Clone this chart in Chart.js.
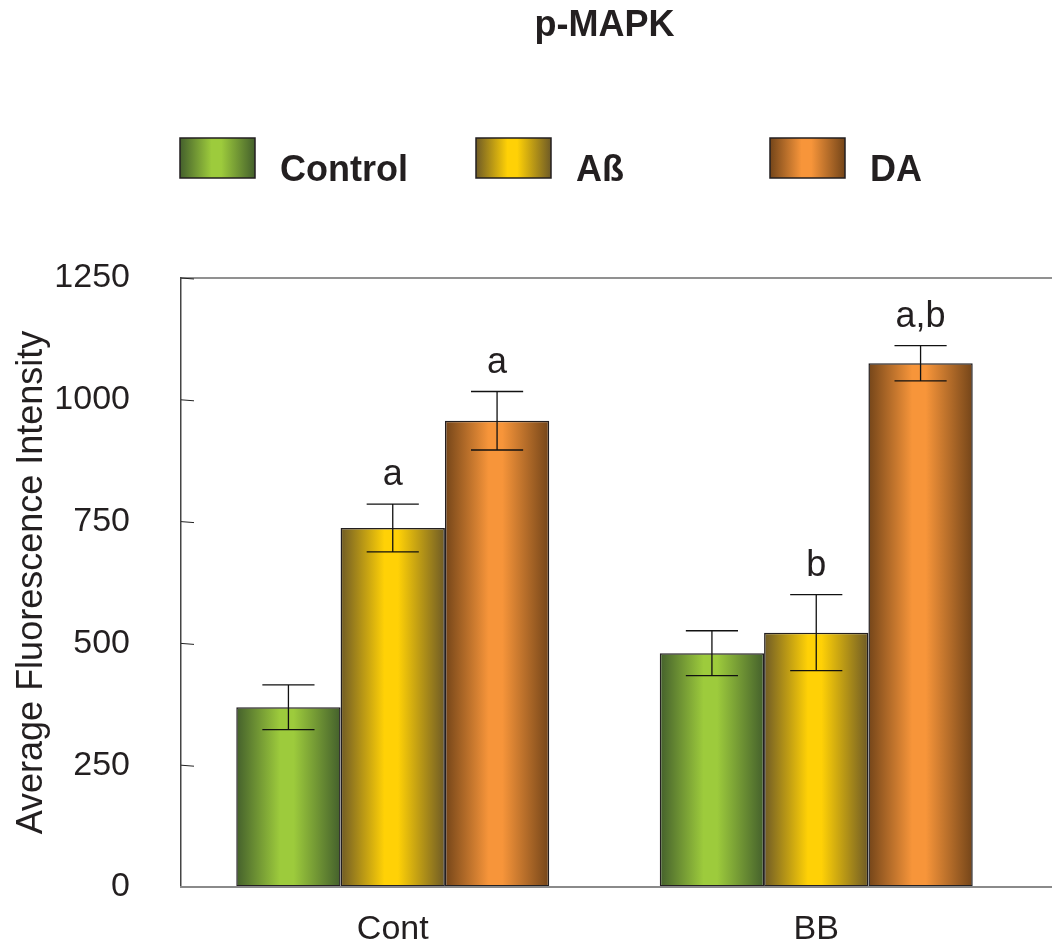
<!DOCTYPE html>
<html>
<head>
<meta charset="utf-8">
<title>p-MAPK</title>
<script src="https://cdn.jsdelivr.net/npm/chart.js@4"></script>
<style>
  html, body { margin: 0; padding: 0; background: #ffffff; }
  #wrap { width: 1052px; height: 949px; }
</style>
</head>
<body>
<div id="wrap">
  <canvas id="mapkChart" width="1052" height="949"></canvas>
</div>
<script>
// data
const groups = ["Cont", "BB"];
const seriesNames = ["Control", "Aß", "DA"];
const controlValues = [369, 480];
const abValues = [737, 522];
const daValues = [957, 1075];
const controlErrors = [46, 46];
const abErrors = [49, 78];
const daErrors = [60, 36];
const controlLetters = ["", ""];
const abLetters = ["a", "b"];
const daLetters = ["a", "a,b"];
const yTicks = [0, 250, 500, 750, 1000, 1250];

const FONT = "'Liberation Sans', Arial, Helvetica, sans-serif";
const INK = "#231f20";

// edge / centre colours of the shaded bars
const shades = [
    { edge: "#44602c", mid: "#9dcb3c" },
    { edge: "#6f5b26", mid: "#ffd106" },
    { edge: "#744519", mid: "#f7953a" }
];

function barGradient(ctx, x0, x1, shade) {
    const g = ctx.createLinearGradient(x0, 0, x1, 0);
    g.addColorStop(0, shade.edge);
    g.addColorStop(0.42, shade.mid);
    g.addColorStop(0.55, shade.mid);
    g.addColorStop(1, shade.edge);
    return g;
}

const shadePlugin = {
    id: "shade",
    beforeDatasetsDraw(chart) {
        const ctx = chart.ctx;
        chart.data.datasets.forEach((ds, i) => {
            const meta = chart.getDatasetMeta(i);
            meta.data.forEach(bar => {
                const half = bar.width / 2;
                const g = barGradient(ctx, bar.x - half, bar.x + half, shades[i]);
                bar.options = Object.assign({}, bar.options, { backgroundColor: g });
            });
        });
    }
};

const extrasPlugin = {
    id: "extras",
    afterDatasetsDraw(chart) {
        const ctx = chart.ctx;
        const area = chart.chartArea;
        const y = chart.scales.y;

        // frame lines across the top and bottom
        ctx.save();
        ctx.strokeStyle = "#6d6d6d";
        ctx.lineWidth = 1.5;
        ctx.beginPath();
        ctx.moveTo(area.left, area.top);
        ctx.lineTo(chart.width, area.top);
        ctx.stroke();
        ctx.strokeStyle = "#8a8a8a";
        ctx.lineWidth = 2.2;
        ctx.beginPath();
        ctx.moveTo(area.left - 1, area.bottom);
        ctx.lineTo(chart.width, area.bottom);
        ctx.stroke();

        // inward tick marks
        ctx.strokeStyle = "#222";
        ctx.lineWidth = 1;
        y.ticks.forEach(t => {
            if (t.value === 0) return;
            const py = y.getPixelForValue(t.value);
            ctx.beginPath();
            ctx.moveTo(area.left, py);
            ctx.lineTo(area.left + 13, py + 1);
            ctx.stroke();
        });

        // error bars and letters
        ctx.lineWidth = 1.3;
        ctx.strokeStyle = "#111";
        ctx.fillStyle = INK;
        ctx.font = "36px " + FONT;
        ctx.textAlign = "center";
        ctx.textBaseline = "alphabetic";
        chart.data.datasets.forEach((ds, i) => {
            const meta = chart.getDatasetMeta(i);
            meta.data.forEach((bar, j) => {
                const v = ds.data[j];
                const e = ds.errors[j];
                const yt = y.getPixelForValue(v + e);
                const yb = y.getPixelForValue(v - e);
                const cap = bar.width / 4;
                ctx.beginPath();
                ctx.moveTo(bar.x, yt);
                ctx.lineTo(bar.x, yb);
                ctx.moveTo(bar.x - cap, yt);
                ctx.lineTo(bar.x + cap, yt);
                ctx.moveTo(bar.x - cap, yb);
                ctx.lineTo(bar.x + cap, yb);
                ctx.stroke();
                if (ds.letters[j]) {
                    ctx.fillText(ds.letters[j], bar.x, yt - 19);
                }
            });
        });
        ctx.restore();
    },
    afterDraw(chart) {
        // legend row
        const ctx = chart.ctx;
        const left = chart.chartArea.left;
        const offsets = [0, 296, 590];
        ctx.save();
        ctx.font = "bold 36px " + FONT;
        ctx.textAlign = "left";
        ctx.textBaseline = "alphabetic";
        chart.data.datasets.forEach((ds, i) => {
            const bx = left + offsets[i] - 1;
            const by = 138;
            ctx.fillStyle = barGradient(ctx, bx, bx + 75, shades[i]);
            ctx.fillRect(bx, by, 75, 40);
            ctx.strokeStyle = INK;
            ctx.lineWidth = 1.5;
            ctx.strokeRect(bx, by, 75, 40);
            ctx.fillStyle = INK;
            ctx.fillText(ds.label, bx + 100, by + 43);
        });
        ctx.restore();
    }
};

function makeDataset(name, values, errors, letters) {
    return {
        label: name,
        data: values,
        errors: errors,
        letters: letters,
        backgroundColor: "#999",
        borderColor: INK,
        borderWidth: 1.5,
        borderSkipped: false,
        categoryPercentage: 0.739,
        barPercentage: 1.0
    };
}

function createMapkChart() {
    const ctx = document.getElementById("mapkChart");
    if (!ctx) return;

    new Chart(ctx, {
        type: "bar",
        data: {
            labels: groups,
            datasets: [
                makeDataset(seriesNames[0], controlValues, controlErrors, controlLetters),
                makeDataset(seriesNames[1], abValues, abErrors, abLetters),
                makeDataset(seriesNames[2], daValues, daErrors, daLetters)
            ]
        },
        options: {
            responsive: false,
            animation: false,
            devicePixelRatio: 1,
            layout: { padding: { left: 0, right: 24, top: 0, bottom: 0 } },
            plugins: {
                legend: { display: false },
                tooltip: { enabled: false },
                title: {
                    display: true,
                    text: "p-MAPK",
                    fullSize: false,
                    color: INK,
                    font: { family: FONT, size: 36, weight: "bold", lineHeight: 1.2 },
                    padding: { top: 4, bottom: 230.8 }
                }
            },
            scales: {
                x: {
                    grid: { display: false },
                    border: { display: false },
                    afterFit: s => {
                        s.height = 62;
                    },
                    ticks: {
                        color: INK,
                        font: { family: FONT, size: 34 },
                        padding: 14
                    }
                },
                y: {
                    min: 0,
                    max: 1250,
                    afterBuildTicks: s => {
                        s.ticks = yTicks.map(v => ({ value: v }));
                    },
                    afterFit: s => {
                        s.width = 181;
                    },
                    grid: {
                        drawOnChartArea: false,
                        drawTicks: true,
                        tickLength: 41,
                        tickColor: "rgba(0,0,0,0)"
                    },
                    border: { display: true, color: "#444", width: 1.5 },
                    ticks: {
                        color: INK,
                        font: { family: FONT, size: 34 },
                        padding: 10,
                        callback: v => String(v)
                    },
                    title: {
                        display: true,
                        text: "Average Fluorescence Intensity",
                        color: INK,
                        font: { family: FONT, size: 36, lineHeight: 1.0 },
                        padding: { top: 14, bottom: 0 }
                    }
                }
            }
        },
        plugins: [shadePlugin, extrasPlugin]
    });
}

createMapkChart();
</script>
</body>
</html>
